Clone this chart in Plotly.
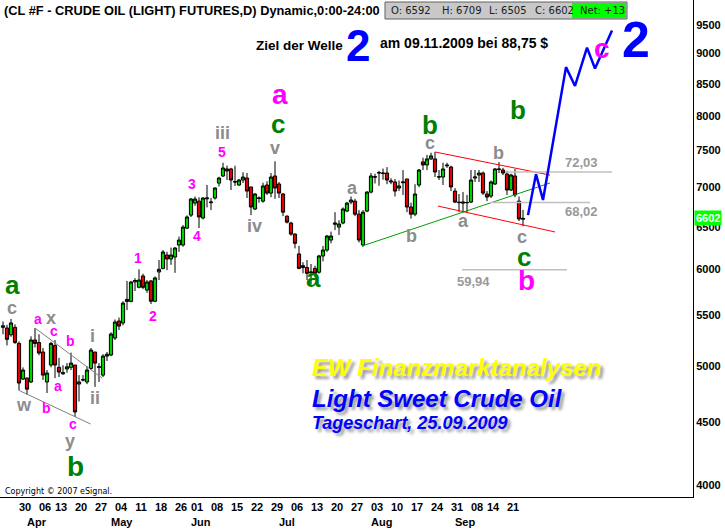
import math
import plotly.graph_objects as go

# ---------------- data ----------------
mar_days = [24, 25, 26, 27, 30, 31]
apr_days = [1, 2, 3, 6, 7, 8, 9, 13, 14, 15, 16, 17, 20, 21, 22, 23, 24, 27, 28, 29, 30]
may_days = [1, 4, 5, 6, 7, 8, 11, 12, 13, 14, 15, 18, 19, 20, 21, 22, 26, 27, 28, 29]
jun_days = [1, 2, 3, 4, 5, 8, 9, 10, 11, 12, 15, 16, 17, 18, 19, 22, 23, 24, 25, 26, 29, 30]
jul_days = [1, 2, 3, 6, 7, 8, 9, 10, 13, 14, 15, 16, 17, 20, 21, 22, 23, 24, 27, 28, 29, 30, 31]
aug_days = [3, 4, 5, 6, 7, 10, 11, 12, 13, 14, 17, 18, 19, 20, 21, 24, 25, 26, 27, 28, 31]
sep_days = [1, 2, 3, 4, 8, 9, 10, 11, 14, 15, 16, 17, 18, 21, 22, 23, 24, 25]

dates = ([f"2009-03-{d:02d}" for d in mar_days] + [f"2009-04-{d:02d}" for d in apr_days] +
         [f"2009-05-{d:02d}" for d in may_days] + [f"2009-06-{d:02d}" for d in jun_days] +
         [f"2009-07-{d:02d}" for d in jul_days] + [f"2009-08-{d:02d}" for d in aug_days] +
         [f"2009-09-{d:02d}" for d in sep_days])

open_ = [5380, 5373, 5305, 5380, 5220, 4882, 4890, 4855, 5253, 5228,
         5136, 4855, 5012, 5200, 4990, 4930, 4975, 4990, 5012, 4836,
         4878, 4855, 4980, 5136, 4990, 4918, 5097, 5107, 5273, 5444,
         5424, 5648, 5648, 5860, 5800, 5925, 5770, 5870, 5650, 5970,
         6010, 6163, 6117, 6140, 6280, 6280, 6483, 6643, 6795, 6820,
         6607, 6850, 6800, 6860, 7055, 7150, 7245, 7245, 7075, 7030,
         7096, 7123, 7004, 6720, 6855, 6820, 7030, 6924, 7150, 7043,
         6912, 6630, 6545, 6410, 6176, 6020, 6020, 5960, 6010, 5967,
         6152, 6221, 6339, 6530, 6495, 6545, 6694, 6808, 6820, 6655,
         6280, 6694, 6937, 7140, 7190, 7190, 7190, 7070, 7070, 6990,
         7060, 7110, 6745, 6655, 7030, 7342, 7300, 7383, 7383, 7140,
         7136, 7300, 7272, 6950, 6800, 6810, 6800, 6808, 7123, 7163,
         7190, 6912, 6885, 7043, 7245, 7231, 7177, 6964, 7150, 6820,
         6592]
high = [5440, 5405, 5465, 5410, 5240, 4990, 4898, 5290, 5373, 5310,
        5175, 4965, 5235, 5253, 5080, 5010, 5030, 5130, 5012, 4918,
        4918, 5000, 5175, 5136, 5030, 5115, 5136, 5330, 5460, 5480,
        5650, 5870, 5870, 5900, 6000, 5950, 5880, 5880, 5920, 6105,
        6221, 6200, 6250, 6255, 6380, 6520, 6640, 6860, 6880, 6870,
        6870, 7030, 6860, 7000, 7140, 7330, 7290, 7260, 7290, 7110,
        7200, 7190, 7004, 6925, 6880, 7060, 7080, 7190, 7350, 7070,
        6925, 6640, 6560, 6420, 6270, 6080, 6105, 6060, 6040, 6165,
        6270, 6400, 6440, 6680, 6580, 6740, 6810, 6880, 6850, 6706,
        6706, 6950, 7190, 7180, 7220, 7250, 7270, 7120, 7110, 7090,
        7230, 7110, 6800, 7040, 7245, 7400, 7440, 7470, 7480, 7231,
        7330, 7330, 7290, 6990, 6912, 6937, 6900, 7231, 7231, 7231,
        7210, 6950, 7090, 7258, 7340, 7260, 7220, 7180, 7245, 6880,
        6709]
low = [5310, 5200, 5285, 5215, 4782, 4873, 4740, 4845, 5180, 5105,
       4873, 4755, 4990, 4890, 4900, 4920, 4940, 4965, 4545, 4680,
       4860, 4835, 4965, 4810, 4855, 4900, 5050, 5097, 5253, 5353,
       5400, 5557, 5640, 5760, 5790, 5780, 5740, 5620, 5640, 5880,
       6000, 5990, 6050, 5960, 6200, 6260, 6470, 6620, 6760, 6483,
       6590, 6740, 6706, 6840, 7010, 7136, 7096, 6964, 7017, 7020,
       7056, 6860, 6643, 6706, 6800, 6800, 6900, 6870, 6850, 6860,
       6630, 6540, 6390, 6240, 6000, 5955, 5880, 5836, 5910, 5950,
       6090, 6200, 6300, 6459, 6400, 6530, 6680, 6780, 6630, 6310,
       6260, 6680, 6920, 7050, 7020, 7100, 7040, 7040, 6880, 6950,
       6900, 6680, 6600, 6630, 7000, 7231, 7230, 7370, 7136, 7096,
       7030, 7260, 6950, 6795, 6680, 6680, 6680, 6795, 7070, 7070,
       6900, 6820, 6860, 7030, 7190, 7163, 6900, 6950, 6870, 6570,
       6505]
close = [5395, 5260, 5424, 5228, 4845, 4965, 4790, 5253, 5220, 5126,
         4918, 4937, 5220, 5012, 4946, 4940, 4995, 5030, 4589, 4855,
         4873, 4965, 5155, 5030, 4995, 5097, 5115, 5313, 5434, 5393,
         5631, 5670, 5858, 5875, 5880, 5800, 5858, 5650, 5903, 6000,
         6198, 6117, 6163, 6245, 6339, 6495, 6620, 6847, 6847, 6620,
         6860, 6860, 6808, 6990, 7123, 7258, 7218, 7096, 7070, 7096,
         7136, 6950, 6745, 6912, 6860, 7017, 6924, 7136, 6990, 6924,
         6680, 6556, 6410, 6300, 6010, 6041, 5955, 5969, 5955, 6152,
         6221, 6387, 6387, 6545, 6533, 6720, 6795, 6834, 6655, 6339,
         6680, 6937, 7150, 7136, 7195, 7185, 7096, 7083, 6950, 7017,
         7070, 6745, 6655, 6912, 7231, 7300, 7383, 7425, 7204, 7136,
         7245, 7290, 7004, 6808, 6805, 6796, 6802, 7096, 7136, 7190,
         6924, 6872, 7070, 7245, 7240, 7190, 6964, 7163, 6900, 6595,
         6602]

tick_dates = ["2009-03-30", "2009-04-06", "2009-04-13", "2009-04-20", "2009-04-27",
              "2009-05-04", "2009-05-11", "2009-05-18", "2009-05-26", "2009-06-01",
              "2009-06-08", "2009-06-15", "2009-06-22", "2009-06-29", "2009-07-06",
              "2009-07-13", "2009-07-20", "2009-07-27", "2009-08-03", "2009-08-10",
              "2009-08-17", "2009-08-24", "2009-08-31", "2009-09-08", "2009-09-14",
              "2009-09-21"]
month_starts = ["2009-04-01", "2009-05-01", "2009-06-01", "2009-07-01", "2009-08-03", "2009-09-01"]
month_names = ["Apr", "May", "Jun", "Jul", "Aug", "Sep"]
price_ticks = [4000, 4500, 5000, 5500, 6000, 6500, 7000, 7500, 8000, 8500, 9000, 9500]

# reference levels
ref_levels = [7203, 6802, 5994]
ref_texts = ["72,03", "68,02", "59,94"]

# projected path (index, price)
proj_x = [131.25, 133.25, 135, 140.75, 143, 146, 148, 152.25]
proj_y = [6643, 7175, 6834, 8773, 8468, 9100, 8750, 9400]

# ---------------- styling helpers ----------------
ARIAL = "Liberation Sans, Arial, sans-serif"
GREEN = "#008000"
MAG = "#ff00ff"
GRAY = "#8c8c8c"
BLUE = "#0000ff"

W, H = 725, 530
ML, MR, MT, MB = 0, 32, 0, 33
PW, PH = W - ML - MR, H - MT - MB


def px(x):
    return x / PW


def py(y):
    return 1 - y / PH


xs = list(range(len(dates)))
idx = {d: i for i, d in enumerate(dates)}

fig = go.Figure()

# trend / channel lines (index, price)
lines = [
    ([8, 24.75], [5373, 4891], "#808080", 1),
    ([3.8, 21.9], [4782, 4486], "#808080", 1),
    ([89.75, 136.75], [6268, 7057], "#00a000", 1),
    ([108, 136.75], [7480, 7162], "#ff0000", 1),
    ([108.75, 138], [6757, 6436], "#ff0000", 1),
    ([125.5, 152.25], [ref_levels[0]] * 2, "#c0c0c0", 1.5),
    ([121.75, 146.75], [ref_levels[1]] * 2, "#c0c0c0", 1.5),
    ([114.75, 141], [ref_levels[2]] * 2, "#c0c0c0", 1.5),
]
for lx, ly, col, wd in lines:
    fig.add_trace(go.Scatter(x=lx, y=ly, mode="lines", line=dict(color=col, width=wd),
                             hoverinfo="skip", showlegend=False))

fig.add_trace(go.Candlestick(
    x=xs, open=open_, high=high, low=low, close=close,
    increasing=dict(line=dict(color="black", width=1), fillcolor="#00d000"),
    decreasing=dict(line=dict(color="black", width=1), fillcolor="#e00000"),
    whiskerwidth=0, showlegend=False, hoverinfo="skip"))

fig.add_trace(go.Scatter(x=proj_x, y=proj_y, mode="lines", line=dict(color=BLUE, width=2.5),
                         hoverinfo="skip", showlegend=False))

ann = []

# wave labels (text, index, price, color, size)
wave_labels = [
    ("a", 2.25, 5825, GREEN, 26), ("c", 2.25, 5579, GRAY, 18),
    ("a", 8.75, 5465, MAG, 14), ("x", 12, 5475, GRAY, 18),
    ("c", 12.75, 5343, MAG, 14), ("b", 16.75, 5244, MAG, 14),
    ("a", 13.75, 4818, MAG, 14), ("w", 5.25, 4649, GRAY, 18),
    ("b", 10.75, 4623, MAG, 14), ("c", 17.5, 4486, MAG, 14),
    ("y", 16.75, 4345, GRAY, 18), ("b", 18, 4145, GREEN, 28),
    ("i", 22.25, 5294, GRAY, 18), ("ii", 23, 4710, GRAY, 18),
    ("1", 33.75, 6128, MAG, 14), ("2", 37.5, 5496, MAG, 14),
    ("3", 47.25, 7041, MAG, 14), ("4", 48.5, 6388, MAG, 14),
    ("5", 54.75, 7480, MAG, 14), ("iii", 54.75, 7751, GRAY, 18),
    ("v", 68, 7538, GRAY, 18), ("iv", 62.75, 6509, GRAY, 18),
    ("c", 68.75, 7885, GREEN, 26), ("a", 69.25, 8326, MAG, 28),
    ("a", 77.5, 5903, GREEN, 26), ("a", 87.25, 6988, GRAY, 18),
    ("b", 102, 6388, GRAY, 18), ("c", 106.75, 7610, GRAY, 18),
    ("b", 106.75, 7871, GREEN, 26), ("a", 115, 6571, GRAY, 18),
    ("b", 123.75, 7466, GRAY, 18), ("c", 129.75, 6376, GRAY, 18),
    ("c", 130.25, 6140, GREEN, 26), ("b", 130.75, 5880, MAG, 28),
    ("b", 128.75, 8095, GREEN, 26), ("c", 149.75, 9092, MAG, 28),
    ("2", 158.25, 9231, BLUE, 50),
]
for t, xi, pr, col, sz in wave_labels:
    ann.append(dict(x=xi, y=math.log10(pr), xref="x", yref="y", text=t, showarrow=False,
                    font=dict(family=ARIAL, size=sz, color=col, weight="bold"),
                    xanchor="center", yanchor="middle"))

# reference level labels
ref_label_pos = [(144.5, 7203, -10), (144.5, 6802, 9), (117.5, 5994, 12)]
for (xi, pr, dy), t in zip(ref_label_pos, ref_texts):
    ann.append(dict(x=xi, y=math.log10(pr), xref="x", yref="y", text=t, showarrow=False,
                    yshift=-dy, font=dict(family=ARIAL, size=13, color="#999999", weight="bold"),
                    xanchor="center", yanchor="middle"))

# header
ann.append(dict(x=px(2), y=py(10), xref="paper", yref="paper", xanchor="left", yanchor="middle",
                text="(CL #F - CRUDE OIL (LIGHT) FUTURES,D) Dynamic,0:00-24:00", showarrow=False,
                font=dict(family=ARIAL, size=12.8, color="black", weight="bold")))
shapes = [
    dict(type="rect", xref="paper", yref="paper", x0=px(385), x1=px(627), y0=py(19), y1=py(2),
         fillcolor="#c8c8c8", line=dict(color="#606060", width=1)),
    dict(type="rect", xref="paper", yref="paper", x0=px(572), x1=px(626), y0=py(18), y1=py(3),
         fillcolor="#00ff00", line=dict(width=0)),
]
ohlc_txt = [("O: 6592", 389), ("H: 6709", 440), ("L: 6505", 487), ("C: 6602", 533), ("Net: +13", 578)]
for t, x0 in ohlc_txt:
    ann.append(dict(x=px(x0), y=py(10.5), xref="paper", yref="paper", xanchor="left", yanchor="middle",
                    text=t, showarrow=False, font=dict(family="DejaVu Sans", size=10, color="#202020")))

# target text
ann.append(dict(x=px(254), y=py(45), xref="paper", yref="paper", xanchor="left", yanchor="middle",
                text="Ziel der Welle", showarrow=False,
                font=dict(family=ARIAL, size=13.5, color="black", weight="bold")))
ann.append(dict(x=px(358), y=py(45), xref="paper", yref="paper", xanchor="center", yanchor="middle",
                text="2", showarrow=False, font=dict(family=ARIAL, size=44, color=BLUE, weight="bold")))
ann.append(dict(x=px(378), y=py(43), xref="paper", yref="paper", xanchor="left", yanchor="middle",
                text="am 09.11.2009 bei 88,75 $", showarrow=False,
                font=dict(family=ARIAL, size=14, color="black", weight="bold")))

# EW text block with shadow
ew = [("EW Finanzmarktanalysen", 367, 24, "#ffff00"),
      ("Light Sweet Crude Oil", 398, 24, "#0000ff"),
      ("Tageschart, 25.09.2009", 423, 18, "#0000ff")]
for t, yy, sz, col in ew:
    ann.append(dict(x=px(310), y=py(yy), xref="paper", yref="paper", xanchor="left", yanchor="middle",
                    text=t, showarrow=False,
                    font=dict(family=ARIAL, size=sz, color=col, weight="bold", style="italic",
                              shadow="3px 3px 3px #9a9a9a")))

# copyright
ann.append(dict(x=px(3), y=py(491), xref="paper", yref="paper", xanchor="left", yanchor="middle",
                text="Copyright \u00a9 2007 eSignal.", showarrow=False,
                font=dict(family="DejaVu Sans", size=8, color="black")))

# month labels
for d, m in zip(month_starts, month_names):
    ann.append(dict(x=idx[d] - 0.5, y=0, xref="x", yref="paper", xanchor="left", yanchor="top",
                    yshift=-17, text=m, showarrow=False,
                    font=dict(family=ARIAL, size=11, color="black", weight="bold")))

# last price marker
ann.append(dict(x=1, y=math.log10(close[-1]), xref="paper", yref="y", xanchor="left", yanchor="middle",
                xshift=1, text=str(close[-1]), showarrow=False, bgcolor="#00ff00", borderpad=1,
                font=dict(family=ARIAL, size=11, color="white", weight="bold")))

fig.update_layout(
    width=W, height=H, margin=dict(l=ML, r=MR, t=MT, b=MB),
    paper_bgcolor="white", plot_bgcolor="white", showlegend=False,
    boxgap=0.2, boxgroupgap=0,
    annotations=ann, shapes=shapes,
)
fig.update_xaxes(range=[-0.75, 172.5], showgrid=False, zeroline=False, showline=True,
                 linecolor="black", linewidth=1, ticks="",
                 tickvals=[idx[d] + 1.5 for d in tick_dates], ticktext=[d[-2:] for d in tick_dates],
                 tickangle=0, tickfont=dict(family=ARIAL, size=11, color="black", weight="bold"),
                 rangeslider=dict(visible=False), fixedrange=True)
fig.update_yaxes(type="log", range=[math.log10(3911), math.log10(9953)], side="right",
                 showgrid=False, zeroline=False, showline=True, linecolor="black", linewidth=1,
                 ticks="", tickvals=price_ticks, ticktext=[str(v) for v in price_ticks],
                 tickfont=dict(family=ARIAL, size=11, color="black", weight="bold"), fixedrange=True)

fig.write_html("out.html", config={"displayModeBar": False},
               post_script="document.body.style.margin='0px';")
